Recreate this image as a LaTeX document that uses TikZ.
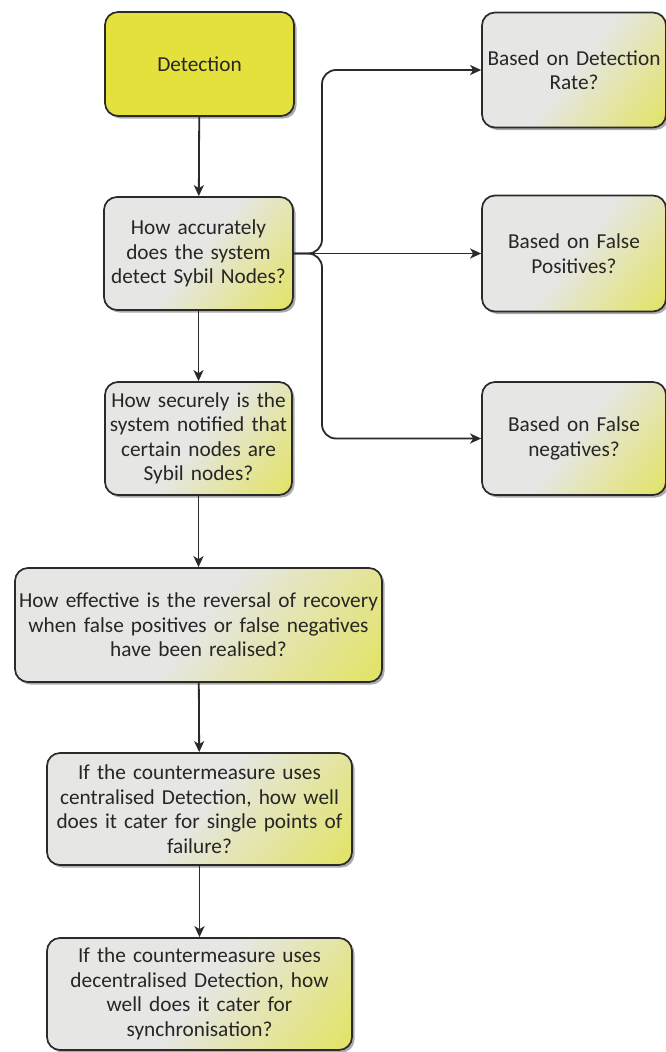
\documentclass[tikz,border=0pt]{standalone}
\usepackage{fontspec}
\setmainfont{Carlito}
\usetikzlibrary{arrows.meta,shadows}

\definecolor{boxgray}{HTML}{E6E6E4}
\definecolor{boxyellow}{HTML}{E0E22C}
\definecolor{headyellow}{HTML}{E4E13C}
\definecolor{inkgray}{HTML}{262626}
\definecolor{linegray}{HTML}{2A2A2A}

% light grey fading into yellow towards the lower right corner
\pgfdeclarehorizontalshading{grayyellow}{100bp}{%
  color(0bp)=(boxgray); color(50bp)=(boxgray);
  color(72bp)=(boxgray!55!boxyellow); color(100bp)=(boxyellow)}

\tikzset{
  boxbase/.style={draw=linegray, line width=1.7pt, rounded corners=13pt,
    align=center, text=inkgray, inner sep=3pt,
    font=\fontsize{21.3}{24.5}\selectfont,
    drop shadow={shadow xshift=2.5pt, shadow yshift=-2.5pt,
      fill=black!60, opacity=0.55}},
  qbox/.style={boxbase, shading=grayyellow, shading angle=-38},
  headbox/.style={boxbase, fill=headyellow},
  flow/.style={draw=linegray, line width=1.8pt,
    -{Stealth[length=11pt,width=10pt,inset=3pt]}},
  branch/.style={flow, rounded corners=14pt}
}

\begin{document}
\begin{tikzpicture}[x=1pt,y=-1pt]
\useasboundingbox (0,0) rectangle (666,1052);

% main column
\node[headbox, minimum width=189pt, minimum height=104pt, text width=183pt]
  (det) at (199.5,64) {Detection};
\node[qbox, minimum width=189pt, minimum height=113pt, text width=183pt]
  (acc) at (198.5,253.5) {How accurately\\does the system\\detect Sybil Nodes?};
\node[qbox, minimum width=187pt, minimum height=113pt, text width=181pt]
  (sec) at (198.5,438.5) {How securely is the\\system notified that\\certain nodes are\\Sybil nodes?};
\node[qbox, minimum width=367pt, minimum height=114pt, text width=361pt]
  (eff) at (198.5,625) {How effective is the reversal of recovery\\when false positives or false negatives\\have been realised?};
\node[qbox, minimum width=305pt, minimum height=112pt, text width=299pt]
  (cen) at (199.5,809) {If the countermeasure uses\\centralised Detection, how well\\does it cater for single points of\\failure?};
\node[qbox, minimum width=305pt, minimum height=112pt, text width=299pt]
  (dec) at (199.5,994) {If the countermeasure uses\\decentralised Detection, how\\well does it cater for\\synchronisation?};

% right column
\node[qbox, minimum width=182pt, minimum height=115pt, text width=178pt]
  (rate) at (574,70) {Based on Detection\\Rate?};
\node[qbox, minimum width=182pt, minimum height=116pt, text width=178pt]
  (fpos) at (574,253.5) {Based on False\\Positives?};
\node[qbox, minimum width=182pt, minimum height=113pt, text width=178pt]
  (fneg) at (574,438.5) {Based on False\\negatives?};

% vertical flow
\draw[flow] (det) -- (acc);
\draw[flow] (acc) -- (sec);
\draw[flow] (sec) -- (eff);
\draw[flow] (eff) -- (cen);
\draw[flow] (cen) -- (dec);

% branches to the criteria
\coordinate (split) at (322,253.5);
\draw[branch] (acc.east) -- (split) |- (rate.west);
\draw[flow] (acc.east) -- (fpos.west);
\draw[branch] (acc.east) -- (split) |- (fneg.west);
\end{tikzpicture}
\end{document}
